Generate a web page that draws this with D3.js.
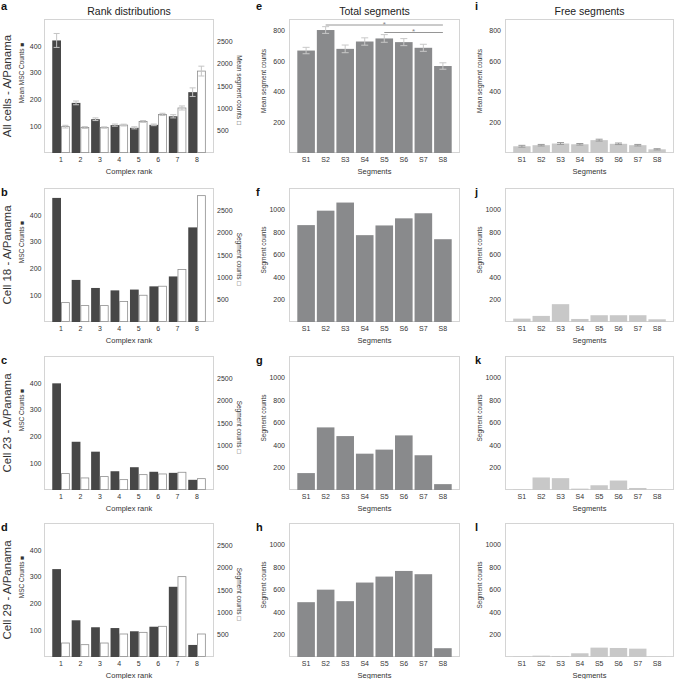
<!DOCTYPE html>
<html>
<head>
<meta charset="utf-8">
<script src="https://cdn.jsdelivr.net/npm/d3@7"></script>
<style>
  body { margin: 0; background: #fff; }
  svg text { font-family: "Liberation Sans", Arial, Helvetica, sans-serif; }
</style>
</head>
<body>
<svg id="fig" width="675" height="679"></svg>
<script>
// ---- data ----
const ranks = [1, 2, 3, 4, 5, 6, 7, 8];
const segments = ["S1", "S2", "S3", "S4", "S5", "S6", "S7", "S8"];
const cellLabels = ["All cells - A/Panama", "Cell 18 - A/Panama", "Cell 23 - A/Panama", "Cell 29 - A/Panama"];
const rankLetters = ["a", "b", "c", "d"];
const totalLetters = ["e", "f", "g", "h"];
const freeLetters = ["i", "j", "k", "l"];
const columnTitles = ["Rank distributions", "Total segments", "Free segments"];

const mscTicks = [100, 200, 300, 400];
const segRankTicks = [500, 1000, 1500, 2000, 2500];
const meanTicks = [200, 400, 600, 800];
const countTicks = [200, 400, 600, 800, 1000];

// rank distributions: MSC counts (dark, left axis)
const mscAll = [420, 187, 126, 104, 94, 105, 137, 227];
const mscAllErr = [26, 7, 5, 4, 4, 3, 6, 16];
const msc18 = [463, 157, 127, 118, 121, 133, 170, 353];
const msc23 = [398, 180, 143, 70, 85, 68, 64, 38];
const msc29 = [328, 137, 111, 108, 96, 113, 262, 45];

// rank distributions: segment counts (white, right axis)
const segAll = [590, 570, 570, 625, 706, 864, 1008, 1834];
const segAllErr = [30, 20, 15, 20, 20, 25, 45, 110];
const seg18 = [434, 367, 367, 457, 599, 801, 1175, 2829];
const seg23 = [367, 270, 300, 232, 344, 359, 397, 254];
const seg29 = [313, 276, 313, 515, 552, 687, 1799, 515];

// total segments
const totalAll = [669, 803, 680, 728, 748, 724, 687, 568];
const totalAllErr = [21, 22, 25, 24, 25, 23, 23, 21];
const total18 = [859, 987, 1059, 770, 856, 919, 964, 734];
const total23 = [150, 555, 478, 322, 358, 484, 308, 52];
const total29 = [486, 597, 495, 660, 713, 763, 734, 78];
const sigPairs = [["S2", "S8"], ["S5", "S8"]];

// free segments
const freeAll = [44, 51, 62, 57, 84, 60, 51, 24];
const freeAllErr = [6, 5, 6, 5, 6, 5, 5, 4];
const free18 = [30, 54, 158, 27, 60, 60, 60, 24];
const free23 = [3, 111, 105, 12, 42, 84, 18, 2];
const free29 = [3, 12, 9, 33, 83, 80, 74, 2];

const mscRows = [mscAll, msc18, msc23, msc29];
const segRows = [segAll, seg18, seg23, seg29];
const totalRows = [totalAll, total18, total23, total29];
const freeRows = [freeAll, free18, free23, free29];

// ---- layout ----
const svg = d3.select("#fig");
const rowTops = [19, 188, 356, 523];
const ROW_H = 134;
const colX = { rank: [44, 214], total: [289, 460], free: [505, 674] };
const TEXT = "#333";
const plain = d3.format("d");

function cleanAxis(g) {
  g.select(".domain").remove();
  g.selectAll("text").attr("fill", TEXT).style("font-size", "7px");
}

function frame(g, x0, x1, top) {
  g.append("rect")
    .attr("x", x0 + 0.5).attr("y", top + 0.5)
    .attr("width", x1 - x0 - 1).attr("height", ROW_H - 1)
    .attr("fill", "none").attr("stroke", "#d4d4d4").attr("stroke-width", 1);
}

function errorBars(g, cx, mean, err, y, capW, color) {
  const eb = g.append("g").attr("stroke", color).attr("stroke-width", 1);
  mean.forEach((m, k) => {
    const lo = y(m - err[k]), hi = y(m + err[k]);
    eb.append("line").attr("x1", cx[k]).attr("x2", cx[k]).attr("y1", lo).attr("y2", hi);
    eb.append("line").attr("x1", cx[k] - capW / 2).attr("x2", cx[k] + capW / 2).attr("y1", hi).attr("y2", hi);
    eb.append("line").attr("x1", cx[k] - capW / 2).attr("x2", cx[k] + capW / 2).attr("y1", lo).attr("y2", lo);
  });
}

function letter(txt, x, y) {
  svg.append("text").attr("x", x).attr("y", y).text(txt)
    .style("font-size", "11px").style("font-weight", "bold").attr("fill", "#111");
}

function vLabel(txt, x, y, angle, size) {
  svg.append("text")
    .attr("transform", `translate(${x},${y}) rotate(${angle})`)
    .attr("text-anchor", "middle").style("font-size", size).attr("fill", TEXT)
    .text(txt);
}

// ---- rank distribution panels ----
function drawRank(i) {
  const top = rowTops[i], bottom = top + ROW_H;
  const [x0, x1] = colX.rank;
  const g = svg.append("g");
  const x = d3.scaleBand().domain(ranks).range([x0, x1]).paddingInner(0.1).paddingOuter(0.425);
  const yL = d3.scaleLinear().domain([0, 500]).range([bottom, top]);
  const yR = d3.scaleLinear().domain([0, 3000]).range([bottom, top]);
  const half = x.bandwidth() / 2;

  frame(g, x0, x1, top);

  g.selectAll("rect.msc").data(mscRows[i]).join("rect").attr("class", "msc")
    .attr("x", (d, k) => x(ranks[k]))
    .attr("width", half)
    .attr("y", d => yL(d))
    .attr("height", d => bottom - yL(d))
    .attr("fill", "#474747");

  g.selectAll("rect.seg").data(segRows[i]).join("rect").attr("class", "seg")
    .attr("x", (d, k) => x(ranks[k]) + half + 0.4)
    .attr("width", half - 0.8)
    .attr("y", d => yR(d))
    .attr("height", d => bottom - 0.4 - yR(d))
    .attr("fill", "#fff").attr("stroke", "#8e8e8e").attr("stroke-width", 0.8);

  if (i === 0) {
    errorBars(g, ranks.map(r => x(r) + half / 2), mscAll, mscAllErr, yL, 6, "#c4c4c4");
    errorBars(g, ranks.map(r => x(r) + half * 1.5), segAll, segAllErr, yR, 6, "#c4c4c4");
  }

  g.append("g").attr("transform", `translate(${x0},0)`)
    .call(d3.axisLeft(yL).tickValues(mscTicks).tickFormat(plain).tickSize(0).tickPadding(2.5))
    .call(cleanAxis);
  g.append("g").attr("transform", `translate(${x1},0)`)
    .call(d3.axisRight(yR).tickValues(segRankTicks).tickFormat(plain).tickSize(0).tickPadding(3))
    .call(cleanAxis);
  g.append("g").attr("transform", `translate(0,${bottom})`)
    .call(d3.axisBottom(x).tickSize(0).tickPadding(4)).call(cleanAxis);

  const cy = top + ROW_H / 2;
  svg.append("text").attr("x", (x0 + x1) / 2).attr("y", bottom + 21)
    .attr("text-anchor", "middle").style("font-size", "7.5px").attr("fill", TEXT).text("Complex rank");
  vLabel(cellLabels[i], 11, cy, -90, "11.5px");
  vLabel((i === 0 ? "Mean MSC Counts" : "MSC Counts") + " \u25A0", 24, cy - 13, -90, "6.5px");
  vLabel((i === 0 ? "Mean segment counts" : "Segment counts") + " \u25A1", 237, cy + 4, 90, "6.5px");
  letter(rankLetters[i], 1, i === 0 ? 10 : top + 8);
}

// ---- segment panels (total / free) ----
function drawSeg(i, key, rows, meanErr, color, letters) {
  const top = rowTops[i], bottom = top + ROW_H;
  const [x0, x1] = colX[key];
  const g = svg.append("g");
  const x = d3.scaleBand().domain(segments).range([x0, x1]).paddingInner(0.1).paddingOuter(0.425);
  const y = d3.scaleLinear().domain(i === 0 ? [0, 875] : [0, 1188]).range([bottom, top]);

  frame(g, x0, x1, top);

  g.selectAll("rect.bar").data(rows[i]).join("rect").attr("class", "bar")
    .attr("x", (d, k) => x(segments[k]))
    .attr("width", x.bandwidth())
    .attr("y", d => y(d))
    .attr("height", d => bottom - y(d))
    .attr("fill", color);

  if (i === 0) {
    errorBars(g, segments.map(s => x(s) + x.bandwidth() / 2), rows[0], meanErr, y, 7,
      key === "total" ? "#c8c8c8" : "#9a9a9a");
  }

  if (i === 0 && key === "total") {
    const sig = g.append("g");
    sigPairs.forEach((p, k) => {
      const a = x(p[0]) + x.bandwidth() / 2, b = x(p[1]) + x.bandwidth() / 2;
      const ly = 25 + k * 7.5;
      sig.append("line").attr("x1", a).attr("x2", b).attr("y1", ly).attr("y2", ly)
        .attr("stroke", "#8a8a8a").attr("stroke-width", 0.9);
      sig.append("text").attr("x", (a + b) / 2).attr("y", ly + 1.5)
        .attr("text-anchor", "middle").style("font-size", "8px").attr("fill", "#888").text("*");
    });
  }

  g.append("g").attr("transform", `translate(${x0},0)`)
    .call(d3.axisLeft(y).tickValues(i === 0 ? meanTicks : countTicks).tickFormat(plain).tickSize(0).tickPadding(4))
    .call(cleanAxis);
  g.append("g").attr("transform", `translate(0,${bottom})`)
    .call(d3.axisBottom(x).tickSize(0).tickPadding(4)).call(cleanAxis);

  svg.append("text").attr("x", (x0 + x1) / 2).attr("y", bottom + 21)
    .attr("text-anchor", "middle").style("font-size", "7.5px").attr("fill", TEXT).text("Segments");
  vLabel(i === 0 ? "Mean segment counts" : "Segment counts", x0 - 23.5, top + ROW_H / 2 - 5, -90, "6.5px");
  letter(letters[i], key === "total" ? 256 : 475, i === 0 ? 10 : top + 8);
}

for (let i = 0; i < 4; i++) {
  drawRank(i);
  drawSeg(i, "total", totalRows, totalAllErr, "#898a8c", totalLetters);
  drawSeg(i, "free", freeRows, freeAllErr, "#c8c8c8", freeLetters);
}

// column titles
[colX.rank, colX.total, colX.free].forEach((c, k) => {
  svg.append("text").attr("x", (c[0] + c[1]) / 2).attr("y", 14.5)
    .attr("text-anchor", "middle").style("font-size", "10.5px").attr("fill", "#222")
    .text(columnTitles[k]);
});
</script>
</body>
</html>
